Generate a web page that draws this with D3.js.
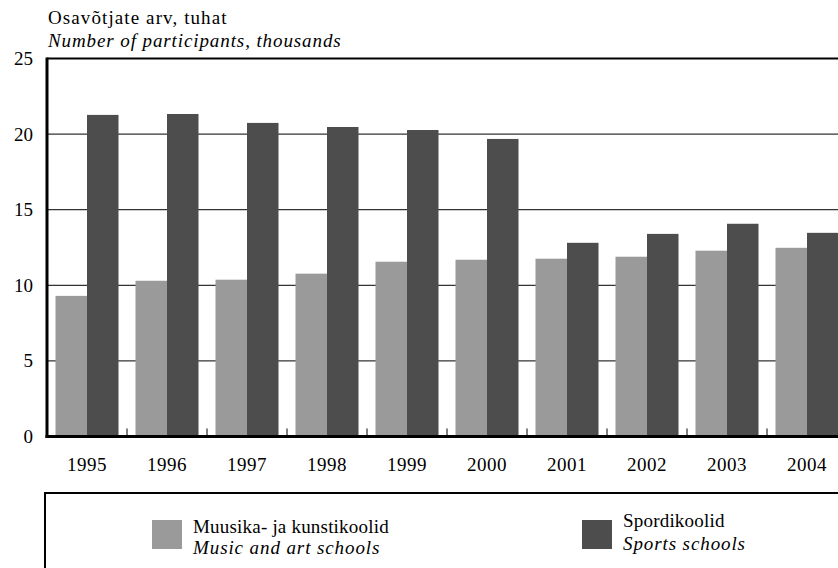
<!DOCTYPE html>
<html>
<head>
<meta charset="utf-8">
<script src="https://cdn.jsdelivr.net/npm/d3@7"></script>
<style>
  body { margin: 0; background: #fff; }
  svg { display: block; font-family: "Liberation Serif", "Times New Roman", serif; }
</style>
</head>
<body>
<svg id="chart" width="838" height="568"></svg>
<script>
// --- Données (milliers de participants)
const years = ["1995", "1996", "1997", "1998", "1999", "2000", "2001", "2002", "2003", "2004"];
const musicArt = [9.3, 10.3, 10.37, 10.77, 11.56, 11.69, 11.76, 11.89, 12.29, 12.48];
const sports = [21.27, 21.33, 20.74, 20.47, 20.27, 19.68, 12.81, 13.4, 14.07, 13.47];
const yTicks = [0, 5, 10, 15, 20, 25];

const seriesKeys = ["music", "sports"];
const seriesColors = { music: "#9a9a9a", sports: "#4d4d4d" };
const legendItems = [
    { key: "music", et: "Muusika- ja kunstikoolid", en: "Music and art schools" },
    { key: "sports", et: "Spordikoolid", en: "Sports schools" }
];

const rows = years.map((yr, i) => ({ year: yr, music: musicArt[i], sports: sports[i] }));

const svg = d3.select("#chart");
const plotLeft = 47, plotRight = 847, plotTop = 58.5, plotBottom = 436.5;
const serif = "Liberation Serif, Times New Roman, serif";

// --- Échelles
const x0 = d3.scaleBand()
    .domain(years)
    .range([plotLeft, plotRight])
    .paddingInner(0.2125)
    .paddingOuter(0.10625);

const x1 = d3.scaleBand()
    .domain(seriesKeys)
    .range([0, x0.bandwidth()]);

const y = d3.scaleLinear()
    .domain([0, 25])
    .range([plotBottom, plotTop]);

// --- Lignes de grille
svg.append("g")
    .selectAll("line")
    .data(yTicks.filter(t => t > 0 && t < 25))
    .join("line")
    .attr("x1", plotLeft)
    .attr("x2", plotRight)
    .attr("y1", d => y(d))
    .attr("y2", d => y(d))
    .attr("stroke", "#333")
    .attr("stroke-width", 1.3);

// --- Barres
svg.append("g")
    .selectAll("g")
    .data(rows)
    .join("g")
    .attr("transform", d => `translate(${x0(d.year)},0)`)
    .selectAll("rect")
    .data(d => seriesKeys.map(k => ({ key: k, value: d[k] })))
    .join("rect")
    .attr("x", d => x1(d.key))
    .attr("width", x1.bandwidth())
    .attr("y", d => y(d.value))
    .attr("height", d => y(0) - y(d.value))
    .attr("fill", d => seriesColors[d.key]);

// --- Cadre haut
svg.append("line")
    .attr("x1", plotLeft).attr("x2", plotRight)
    .attr("y1", plotTop).attr("y2", plotTop)
    .attr("stroke", "#000").attr("stroke-width", 2);

// --- Axe Y
const yAxis = svg.append("g")
    .attr("transform", `translate(${plotLeft},0)`)
    .call(d3.axisLeft(y).tickValues(yTicks).tickSize(0).tickPadding(14));
yAxis.select(".domain").remove();
yAxis.selectAll("text")
    .attr("font-family", serif)
    .attr("font-size", 19)
    .attr("fill", "#000");

svg.append("line")
    .attr("x1", plotLeft).attr("x2", plotLeft)
    .attr("y1", plotTop - 1).attr("y2", plotBottom + 1.5)
    .attr("stroke", "#000").attr("stroke-width", 3);

// --- Axe X
const xAxis = svg.append("g")
    .attr("transform", `translate(0,${plotBottom})`)
    .call(d3.axisBottom(x0).tickSize(0).tickPadding(21));
xAxis.select(".domain").remove();
xAxis.selectAll("text")
    .attr("font-family", serif)
    .attr("font-size", 19)
    .attr("letter-spacing", 0.5)
    .attr("fill", "#000");

// petites graduations entre les groupes
svg.append("g")
    .selectAll("line")
    .data(years.slice(1))
    .join("line")
    .attr("x1", d => x0(d) - x0.step() * x0.paddingInner() / 2)
    .attr("x2", d => x0(d) - x0.step() * x0.paddingInner() / 2)
    .attr("y1", plotBottom - 8)
    .attr("y2", plotBottom)
    .attr("stroke", "#000")
    .attr("stroke-width", 1);

svg.append("line")
    .attr("x1", plotLeft - 1.5).attr("x2", plotRight)
    .attr("y1", plotBottom).attr("y2", plotBottom)
    .attr("stroke", "#000").attr("stroke-width", 3);

// --- Titre
svg.append("text")
    .attr("x", 48).attr("y", 24)
    .attr("font-size", 19)
    .attr("letter-spacing", 1.1)
    .text("Osavõtjate arv, tuhat");
svg.append("text")
    .attr("x", 48).attr("y", 47)
    .attr("font-size", 19)
    .attr("font-style", "italic")
    .attr("letter-spacing", 0.9)
    .text("Number of participants, thousands");

// --- Légende
svg.append("rect")
    .attr("x", 45).attr("y", 493)
    .attr("width", 900).attr("height", 200)
    .attr("fill", "none")
    .attr("stroke", "#000")
    .attr("stroke-width", 2);

const legendX = [152, 582];
const legend = svg.append("g")
    .selectAll("g")
    .data(legendItems)
    .join("g")
    .attr("transform", (d, i) => `translate(${legendX[i]},520)`);

legend.append("rect")
    .attr("width", 30).attr("height", 29)
    .attr("fill", d => seriesColors[d.key]);
legend.append("text")
    .attr("x", 41).attr("y", (d, i) => i === 0 ? 13 : 7)
    .attr("font-size", 19)
    .attr("letter-spacing", 0.2)
    .text(d => d.et);
legend.append("text")
    .attr("x", 41).attr("y", (d, i) => i === 0 ? 34 : 30)
    .attr("font-size", 19)
    .attr("font-style", "italic")
    .attr("letter-spacing", 0.9)
    .text(d => d.en);
</script>
</body>
</html>
